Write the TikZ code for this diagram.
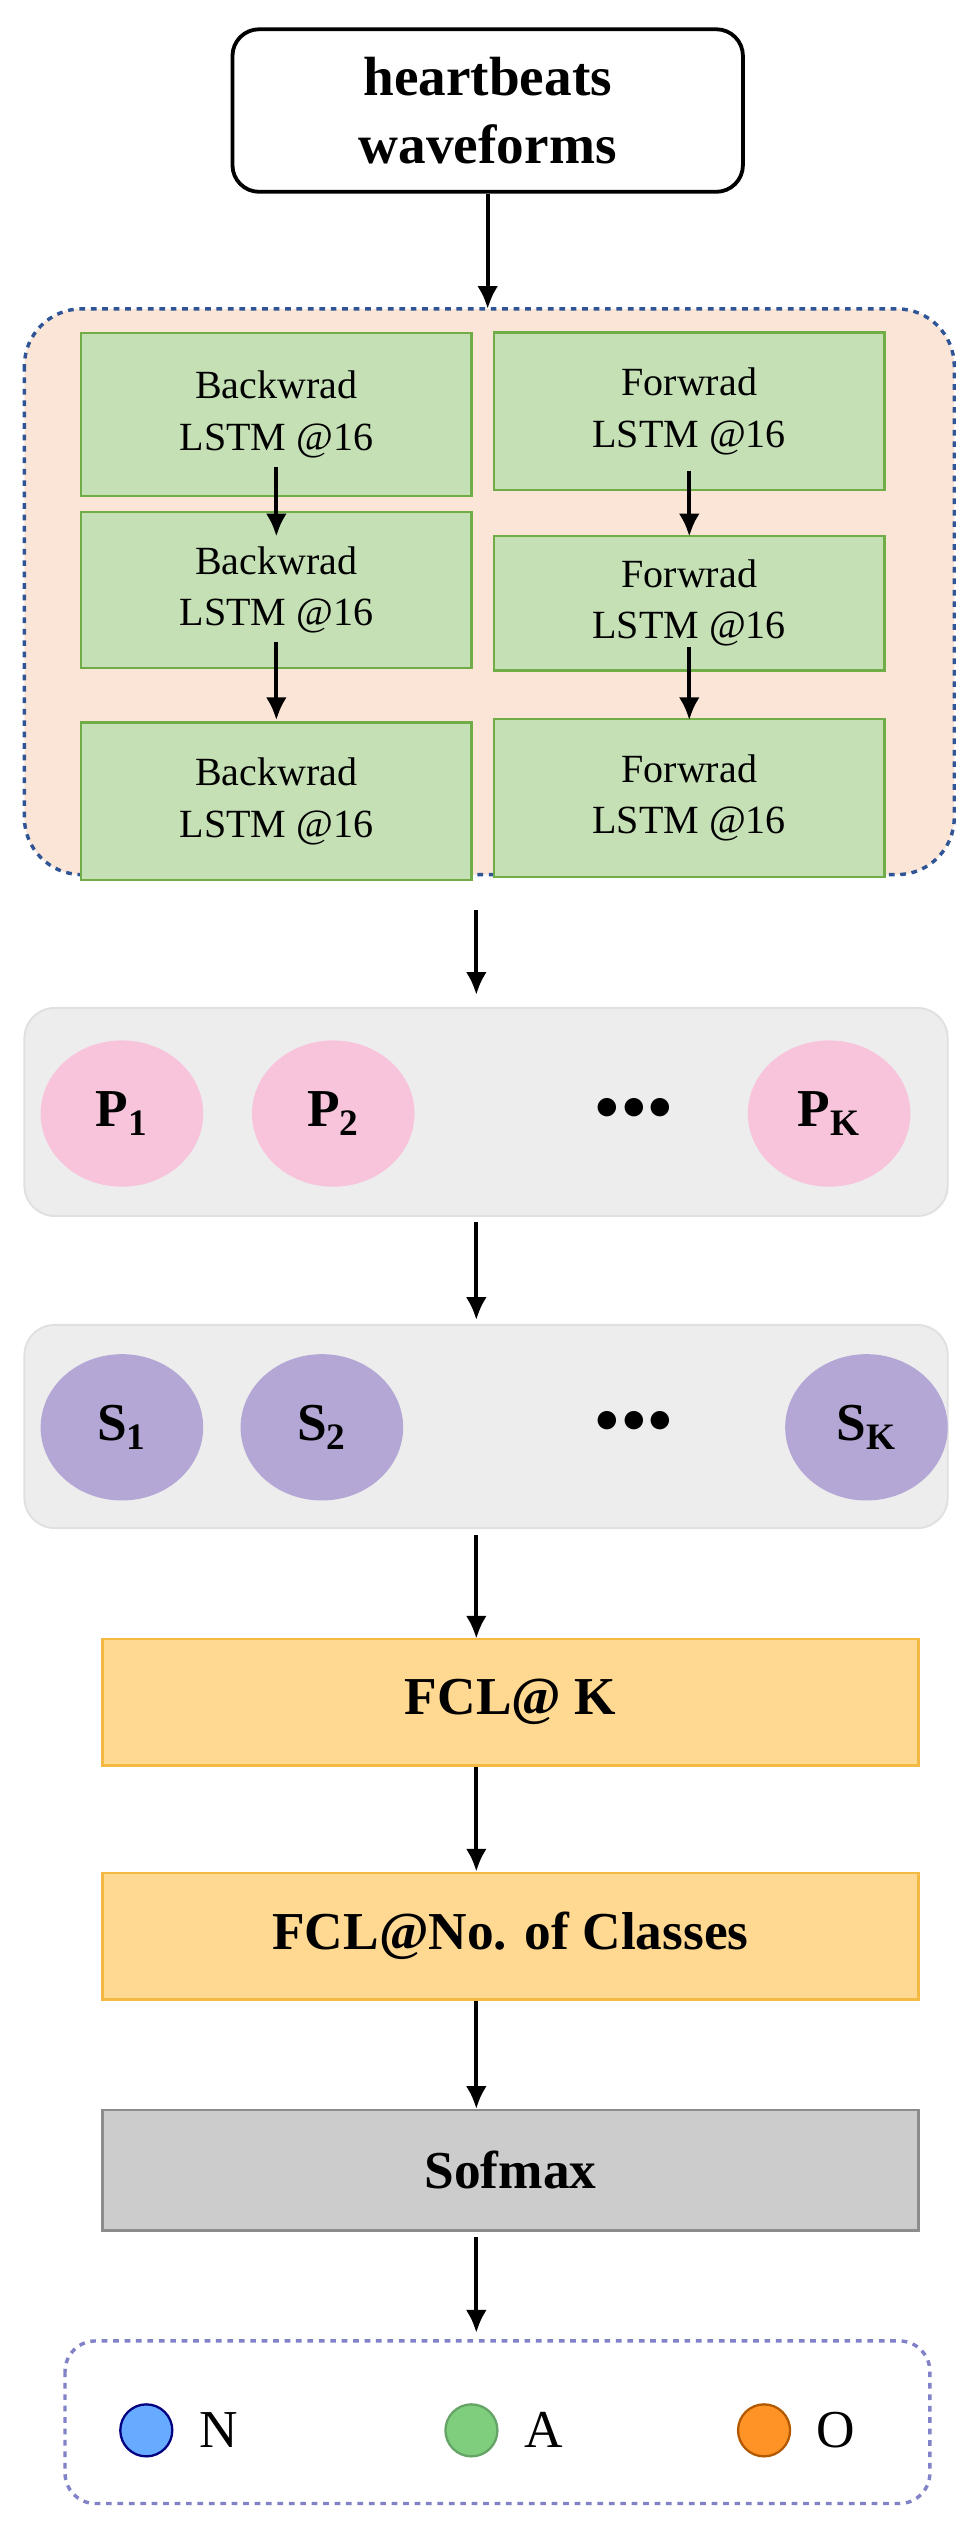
\documentclass[tikz,border=0pt]{standalone}
\usepackage{fontspec}
\setmainfont{Liberation Serif}
\usetikzlibrary{arrows.meta,shapes.geometric}
\definecolor{peach}{HTML}{FBE5D6}
\definecolor{lstmgreen}{HTML}{C5E0B4}
\definecolor{lstmedge}{HTML}{70AD47}
\definecolor{panelgray}{HTML}{EDEDED}
\definecolor{pinkfill}{HTML}{F8C4DC}
\definecolor{purplefill}{HTML}{B4A7D6}
\definecolor{fclfill}{HTML}{FFD992}
\definecolor{fcledge}{HTML}{F4B942}
\definecolor{boxblue}{HTML}{2F5597}
\tikzset{
  flow/.style={-{Latex[length=12pt,width=11pt]},line width=2.2pt},
  lstm/.style={draw=lstmedge,fill=lstmgreen,line width=1.2pt,align=center,font=\fontsize{21}{27}\selectfont},
  fcl/.style={draw=fcledge,fill=fclfill,line width=1.2pt,minimum width=502*0.03cm,minimum height=78*0.03cm,font=\fontsize{28}{32}\selectfont\bfseries},
  pnode/.style={ellipse,fill=pinkfill,minimum width=100*0.03cm,minimum height=90*0.03cm,font=\fontsize{28}{32}\selectfont\bfseries},
  snode/.style={ellipse,fill=purplefill,minimum width=100*0.03cm,minimum height=90*0.03cm,font=\fontsize{28}{32}\selectfont\bfseries},
  panel/.style={fill=panelgray,draw=black!12,line width=1pt,rounded corners=16pt},
  dot/.style={circle,line width=1.2pt,minimum size=32*0.03cm,inner sep=0pt},
}
\begin{document}
\begin{tikzpicture}[x=0.03cm,y=-0.03cm]
  \useasboundingbox (0,0) rectangle (600,1552);

  %% input
  \node[draw,line width=2pt,rounded corners=14pt,minimum width=314*0.03cm,minimum height=100*0.03cm,align=center,font=\fontsize{29}{36}\selectfont\bfseries] (input) at (300,68) {heartbeats\\waveforms};

  %% BiLSTM block
  \draw[boxblue,dashed,line width=1.8pt,fill=peach,rounded corners=30pt] (15,190) rectangle (587,538);
  \coordinate (blockN) at (300,190);
  \coordinate (blockOut) at (293,560);
  \foreach \n/\x/\y/\h/\t in {b1/170/255/100/Backwrad,b2/170/363/96/Backwrad,b3/170/493/97/Backwrad,
                              f1/424/253/97/Forwrad,f2/424/371/83/Forwrad,f3/424/491/97/Forwrad}
  {
    \node[lstm,minimum width=240*0.03cm,minimum height=\h*0.03cm] (\n) at (\x,\y) {\t\\LSTM @16};
  }
  \draw[flow] (input) -- (blockN);
  \coordinate (b1a) at (170,287);
  \coordinate (b2z) at (170,330);
  \coordinate (b2a) at (170,395);
  \coordinate (b3z) at (170,443);
  \coordinate (f1a) at (424,290);
  \coordinate (f2z) at (424,330);
  \coordinate (f2a) at (424,398);
  \coordinate (f3z) at (424,443);
  \draw[flow] (b1a) -- (b2z);
  \draw[flow] (b2a) -- (b3z);
  \draw[flow] (f1a) -- (f2z);
  \draw[flow] (f2a) -- (f3z);

  %% P panel
  \draw[panel] (15,620) rectangle (583,748);
  \coordinate (pIn) at (293,612);
  \node[pnode] (p1) at (75,685) {P$_\mathbf{1}$};
  \node[pnode] (p2) at (205,685) {P$_\mathbf{2}$};
  \node[font=\fontsize{30}{30}\selectfont\bfseries] (pdots) at (390,682) {$\bullet\!\bullet\!\bullet$};
  \node[pnode] (pk) at (510,685) {P$_\mathbf{K}$};
  \draw[flow] (blockOut) -- (pIn);

  %% S panel
  \draw[panel] (15,815) rectangle (583,940);
  \node[snode] (s1) at (75,878) {S$_\mathbf{1}$};
  \node[snode] (s2) at (198,878) {S$_\mathbf{2}$};
  \node[font=\fontsize{30}{30}\selectfont\bfseries] (sdots) at (390,875) {$\bullet\!\bullet\!\bullet$};
  \node[snode] (sk) at (533,878) {S$_\mathbf{K}$};
  \coordinate (pOut) at (293,752);
  \coordinate (sIn) at (293,812);
  \coordinate (sOut) at (293,944);
  \draw[flow] (pOut) -- (sIn);

  %% dense layers
  \node[fcl] (fc1) at (314,1047) {FCL@ K};
  \node[fcl] (fc2) at (314,1191) {FCL@No. of Classes};
  \node[fcl,fill=black!20,draw=black!45,minimum height=74*0.03cm] (soft) at (314,1335) {Sofmax};
  \coordinate (fc1N) at (293,1008);
  \draw[flow] (sOut) -- (fc1N);
  \draw[flow] (fc1.south-|fc1N) -- (fc2.north-|fc1N);
  \draw[flow] (fc2.south-|fc1N) -- (soft.north-|fc1N);

  %% outputs
  \draw[blue!40!gray!70,dashed,line width=1.8pt,rounded corners=16pt] (40,1440) rectangle (572,1540);
  \coordinate (sA) at (293,1376);
  \coordinate (outN) at (293,1435);
  \draw[flow] (sA) -- (outN);
  \node[dot,fill=blue!55!cyan!60,draw=blue!50!black] (cN) at (90,1495) {};
  \node[dot,fill=green!45!gray!70,draw=green!40!black!60] (cA) at (290,1495) {};
  \node[dot,fill=orange!85,draw=orange!70!black] (cO) at (470,1495) {};
  \node[right=10pt,font=\fontsize{28}{32}\selectfont] (lN) at (cN.east) {N};
  \node[right=10pt,font=\fontsize{28}{32}\selectfont] (lA) at (cA.east) {A};
  \node[right=10pt,font=\fontsize{28}{32}\selectfont] (lO) at (cO.east) {O};
\end{tikzpicture}
\end{document}
